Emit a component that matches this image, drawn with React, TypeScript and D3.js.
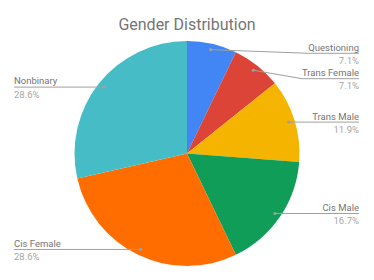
import React, { useEffect, useRef } from "react";
import * as d3 from "d3";

const categories = ["Questioning", "Trans Female", "Trans Male", "Cis Male", "Cis Female", "Nonbinary"];
const counts = [3, 3, 5, 7, 12, 12];
const percentLabels = ["7.1%", "7.1%", "11.9%", "16.7%", "28.6%", "28.6%"];
const colors = ["#4285F4", "#DB4437", "#F4B400", "#0F9D58", "#FF6D01", "#46BDC6"];
const title = "Gender Distribution";

const W = 374;
const H = 280;

export default function App() {
  const ref = useRef<SVGSVGElement>(null);

  useEffect(() => {
    const svg = d3.select(ref.current);
    svg.selectAll("*").remove();
    const cx = 187;
    const cy = 153.5;
    const r = 112.5;
    const dotR = 106.5;
    const font = "Roboto, 'Noto Sans', Arial, sans-serif";

    svg
      .append("text")
      .attr("x", cx)
      .attr("y", 29.5)
      .attr("text-anchor", "middle")
      .attr("font-family", font)
      .attr("font-size", 16)
      .attr("fill", "#757575")
      .text(title);

    const data = categories.map((c, i) => ({ name: c, value: counts[i], pct: percentLabels[i], color: colors[i] }));
    const pie = d3.pie<any>().value((d) => d.value).sort(null);
    const arcs = pie(data);
    const arc = d3.arc<any>().innerRadius(0).outerRadius(r);

    const g = svg.append("g").attr("transform", `translate(${cx},${cy})`);
    g.selectAll("path")
      .data(arcs)
      .enter()
      .append("path")
      .attr("d", arc as any)
      .attr("fill", (d: any) => d.data.color);

    // labels
    const rightX = 359;
    const leftX = 14;
    const minLineY = 53.3;
    const gap = 25.4;
    const items = arcs.map((a: any) => {
      const mid = (a.startAngle + a.endAngle) / 2;
      return {
        a,
        dx: cx + Math.sin(mid) * dotR,
        dy: cy - Math.cos(mid) * dotR,
        right: mid < Math.PI,
      };
    });
    const layout = (list: any[]) => {
      list.sort((p, q) => p.dy - q.dy);
      let prev = -Infinity;
      list.forEach((it) => {
        it.ly = Math.max(it.dy, prev + gap, minLineY);
        prev = it.ly;
      });
    };
    layout(items.filter((i) => i.right));
    layout(items.filter((i) => !i.right));

    const lab = svg.append("g");
    items.forEach((it: any) => {
      const anchor = it.right ? "end" : "start";
      const tx = it.right ? rightX : leftX;
      const name = lab
        .append("text")
        .attr("x", tx)
        .attr("y", it.ly - 2.6)
        .attr("text-anchor", anchor)
        .attr("font-family", font)
        .attr("font-size", 9.5)
        .attr("fill", "#757575")
        .text(it.a.data.name);
      lab
        .append("text")
        .attr("x", tx)
        .attr("y", it.ly + 10.5)
        .attr("text-anchor", anchor)
        .attr("font-family", font)
        .attr("font-size", 9.5)
        .attr("fill", "#A6A6A6")
        .text(it.a.data.pct);
      const tw = (name.node() as SVGTextElement).getComputedTextLength();
      const bendX = it.right ? rightX - tw : leftX + tw;
      const pts: [number, number][] = [
        [it.dx, it.dy],
        [bendX, it.ly],
        [tx, it.ly],
      ];
      if (Math.abs(it.dy - it.ly) < 0.5) pts.splice(1, 1);
      lab
        .append("path")
        .attr("d", d3.line()(pts) as string)
        .attr("fill", "none")
        .attr("stroke", "#A0A0A0")
        .attr("stroke-width", 1);
      lab
        .append("circle")
        .attr("cx", it.dx)
        .attr("cy", it.dy)
        .attr("r", 1.6)
        .attr("fill", "#A0A0A0");
    });
  }, []);

  return (
    <svg
      ref={ref}
      width={W}
      height={H}
      style={{ position: "absolute", left: 0, top: 0, background: "#fff" }}
    />
  );
}
